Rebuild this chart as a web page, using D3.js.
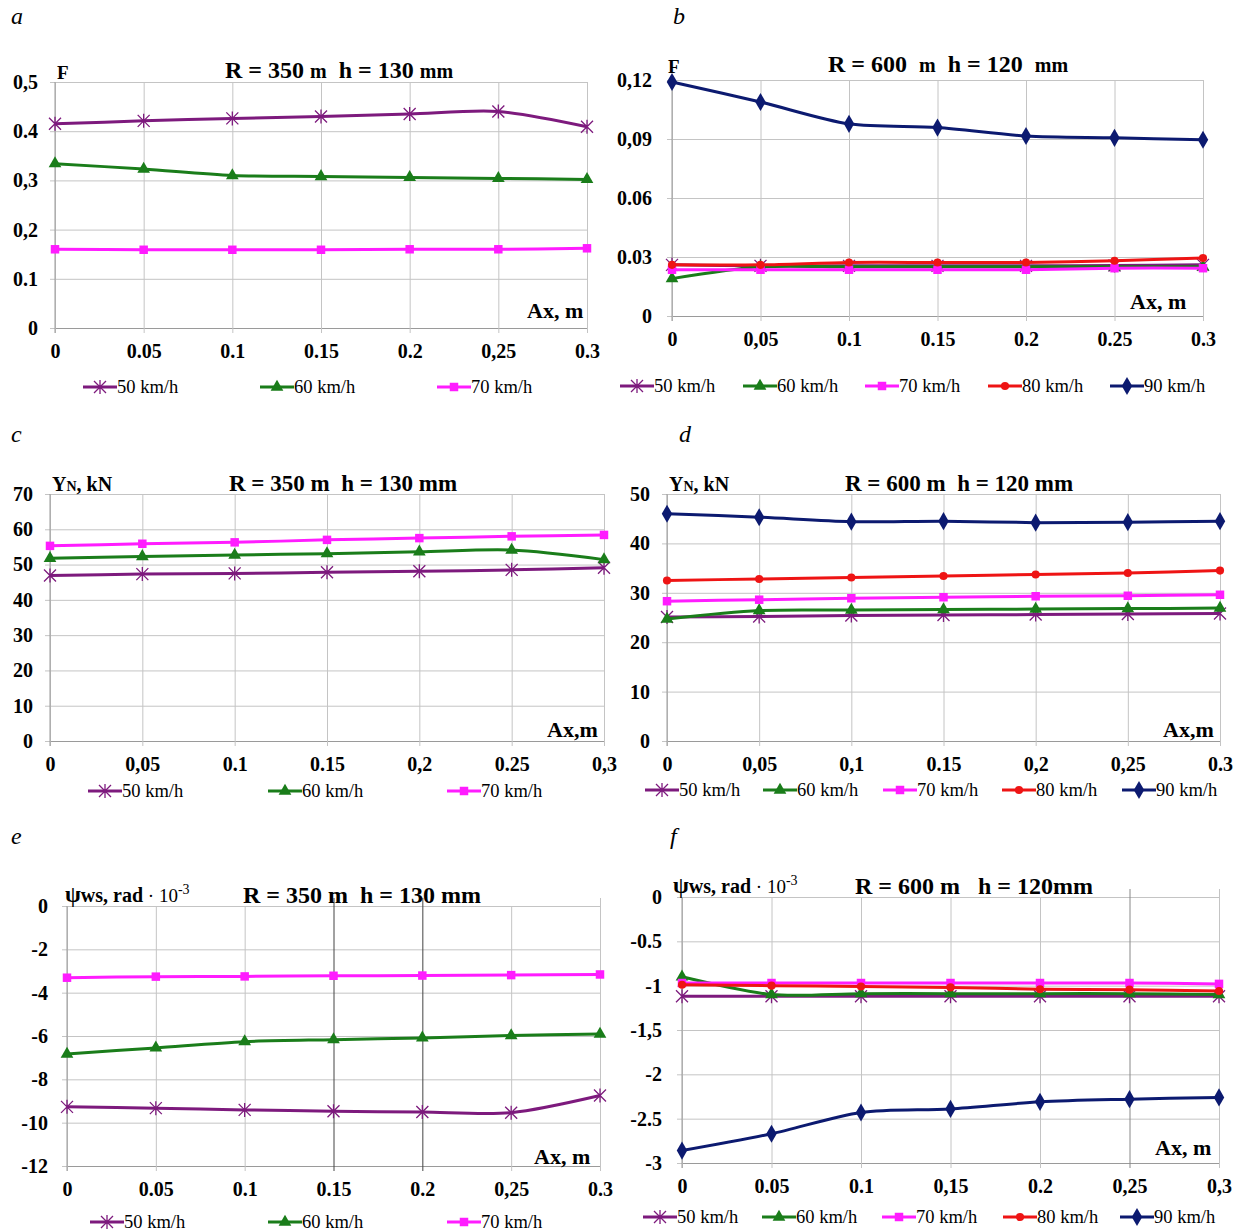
<!DOCTYPE html>
<html><head><meta charset="utf-8">
<script src="https://cdn.jsdelivr.net/npm/d3@7"></script>
<style>body{margin:0;background:#fff}svg{display:block}text{font-family:"Liberation Serif","Times New Roman",serif}</style>
</head><body><svg id="c" width="1241" height="1232"></svg>
<script>
// ---------- DATA ----------
const xValues = [0, 0.05, 0.1, 0.15, 0.2, 0.25, 0.3];
const speeds = ["50 km/h", "60 km/h", "70 km/h", "80 km/h", "90 km/h"];

// a: F, R=350 m h=130 mm
const aF50 = [0.415, 0.421, 0.426, 0.430, 0.435, 0.440, 0.409];
const aF60 = [0.334, 0.323, 0.310, 0.308, 0.306, 0.304, 0.302];
const aF70 = [0.160, 0.159, 0.159, 0.159, 0.160, 0.160, 0.162];
const aXLabels = ["0", "0.05", "0.1", "0.15", "0.2", "0,25", "0.3"];
const aYTicks = [0, 0.1, 0.2, 0.3, 0.4, 0.5];
const aYLabels = ["0", "0.1", "0,2", "0,3", "0.4", "0,5"];

// b: F, R=600 m h=120 mm
const bF50 = [0.026, 0.0255, 0.0255, 0.0255, 0.0255, 0.0257, 0.026];
const bF60 = [0.019, 0.025, 0.025, 0.025, 0.025, 0.025, 0.025];
const bF70 = [0.0235, 0.0235, 0.0235, 0.0235, 0.0235, 0.0243, 0.0243];
const bF80 = [0.026, 0.026, 0.0272, 0.0272, 0.0272, 0.0281, 0.0295];
const bF90 = [0.119, 0.1088, 0.0977, 0.0958, 0.0915, 0.0906, 0.0896];
const bXLabels = ["0", "0,05", "0.1", "0.15", "0.2", "0.25", "0.3"];
const bYTicks = [0, 0.03, 0.06, 0.09, 0.12];
const bYLabels = ["0", "0.03", "0.06", "0,09", "0,12"];

// c: YN, R=350 m h=130 mm
const cY50 = [46.9, 47.3, 47.5, 47.8, 48.1, 48.5, 49.1];
const cY60 = [51.8, 52.3, 52.7, 53.1, 53.6, 54.1, 51.4];
const cY70 = [55.3, 55.9, 56.3, 57.0, 57.5, 58.0, 58.4];
const cXLabels = ["0", "0,05", "0.1", "0.15", "0,2", "0.25", "0,3"];
const cYTicks = [0, 10, 20, 30, 40, 50, 60, 70];
const cYLabels = ["0", "10", "20", "30", "40", "50", "60", "70"];

// d: YN, R=600 m h=120 mm
const dY50 = [25.1, 25.2, 25.4, 25.5, 25.6, 25.7, 25.8];
const dY60 = [24.7, 26.4, 26.5, 26.6, 26.7, 26.8, 26.9];
const dY70 = [28.3, 28.6, 28.9, 29.1, 29.3, 29.4, 29.6];
const dY80 = [32.5, 32.8, 33.1, 33.4, 33.7, 34.0, 34.5];
const dY90 = [46.0, 45.3, 44.4, 44.5, 44.2, 44.3, 44.5];
const dXLabels = ["0", "0,05", "0,1", "0.15", "0,2", "0,25", "0.3"];
const dYTicks = [0, 10, 20, 30, 40, 50];
const dYLabels = ["0", "10", "20", "30", "40", "50"];

// e: psi_ws, R=350 m h=130 mm
const eP50 = [-9.27, -9.33, -9.41, -9.47, -9.51, -9.54, -8.75];
const eP60 = [-6.83, -6.55, -6.26, -6.17, -6.09, -5.98, -5.91];
const eP70 = [-3.31, -3.26, -3.25, -3.22, -3.21, -3.19, -3.16];
const eXLabels = ["0", "0.05", "0.1", "0.15", "0.2", "0,25", "0.3"];
const eYTicks = [-12, -10, -8, -6, -4, -2, 0];
const eYLabels = ["-12", "-10", "-8", "-6", "-4", "-2", "0"];

// f: psi_ws, R=600 m h=120 mm
const fP50 = [-1.12, -1.12, -1.12, -1.12, -1.12, -1.12, -1.12];
const fP60 = [-0.90, -1.10, -1.09, -1.09, -1.09, -1.09, -1.10];
const fP70 = [-0.97, -0.97, -0.97, -0.97, -0.97, -0.97, -0.98];
const fP80 = [-0.99, -1.00, -1.01, -1.02, -1.04, -1.045, -1.06];
const fP90 = [-2.86, -2.67, -2.43, -2.39, -2.31, -2.28, -2.26];
const fXLabels = ["0", "0.05", "0.1", "0,15", "0.2", "0,25", "0,3"];
const fYTicks = [-3, -2.5, -2, -1.5, -1, -0.5, 0];
const fYLabels = ["-3", "-2.5", "-2", "-1,5", "-1", "-0.5", "0"];

// ---------- STYLE ----------
const colors = ["#7d1a7d", "#1a7d1a", "#ff1cff", "#ee1414", "#0c1a70"];
const markers = ["star", "triangle", "square", "circle", "diamond"];

const svg = d3.select("#c");

const panels = [
  {letter:"a", lx:11, ly:24, series:[aF50,aF60,aF70], yTicks:aYTicks, yLabels:aYLabels, xLabels:aXLabels,
   box:{x0:55,x1:587,y0:328,y1:82}, title:["R = 350 ","m","  h = 130 ","mm"], tx:225, ty:78, tfs:24,
   ylab:"F", ylx:57, yly:79, axx:527, axy:318, legY:387, legX:[83,260,437], ytx:38},
  {letter:"b", lx:673, ly:24, series:[bF50,bF60,bF70,bF80,bF90], yTicks:bYTicks, yLabels:bYLabels, xLabels:bXLabels,
   box:{x0:672,x1:1203,y0:316,y1:80}, title:["R = 600  ","m","  h = 120  ","mm"], tx:828, ty:72, tfs:24,
   ylab:"F", ylx:668, yly:73, axx:1130, axy:309, legY:386, legX:[620,743,865,988,1110], ytx:652},
  {letter:"c", lx:11, ly:442, series:[cY50,cY60,cY70], yTicks:cYTicks, yLabels:cYLabels, xLabels:cXLabels,
   box:{x0:50,x1:604,y0:741,y1:494}, title:["R = 350 m  h = 130 mm"], tx:229, ty:491, tfs:23,
   ylab:"YN", ylx:52, yly:491, axx:547, axy:737, legY:791, legX:[88,268,447], ytx:33},
  {letter:"d", lx:679, ly:442, series:[dY50,dY60,dY70,dY80,dY90], yTicks:dYTicks, yLabels:dYLabels, xLabels:dXLabels,
   box:{x0:667,x1:1220,y0:741,y1:494}, title:["R = 600 m  h = 120 mm"], tx:845, ty:491, tfs:23,
   ylab:"YN", ylx:669, yly:491, axx:1163, axy:737, legY:790, legX:[645,763,883,1002,1122], ytx:650},
  {letter:"e", lx:11, ly:844, series:[eP50,eP60,eP70], yTicks:eYTicks, yLabels:eYLabels, xLabels:eXLabels,
   box:{x0:67,x1:600,y0:1166,y1:906}, title:["R = 350 m  h = 130 mm"], tx:243, ty:903, tfs:24,
   ylab:"psi", ylx:65, yly:902, axx:534, axy:1164, legY:1222, legX:[90,268,447], ytx:48,
   darkX:[3,4], darkColor:"#444", extendTop:[3,4,6]},
  {letter:"f", lx:670, ly:844, series:[fP50,fP60,fP70,fP80,fP90], yTicks:fYTicks, yLabels:fYLabels, xLabels:fXLabels,
   box:{x0:682,x1:1219,y0:1163,y1:897}, title:["R = 600 m   h = 120mm"], tx:855, ty:894, tfs:24,
   ylab:"psi", ylx:673, yly:893, axx:1155, axy:1155, legY:1217, legX:[643,762,882,1003,1120], ytx:662,
   darkX:[5], darkColor:"#888", extendTop:[5,6]}
];

function drawMarker(g, type, x, y, color) {
  if (type === "star") {
    const s = 6;
    g.append("path").attr("d", `M${x-s},${y-s}L${x+s},${y+s}M${x-s},${y+s}L${x+s},${y-s}M${x},${y-s-1}L${x},${y+s+1}`)
      .attr("stroke", color).attr("stroke-width", 1.3).attr("fill", "none");
    return;
  }
  const sym = {triangle:d3.symbolTriangle, square:d3.symbolSquare, circle:d3.symbolCircle, diamond:d3.symbolDiamond}[type];
  const size = {triangle:70, square:72, circle:52, diamond:95}[type];
  g.append("path").attr("d", d3.symbol(sym, size)()).attr("transform", `translate(${x},${y})`).attr("fill", color);
}

panels.forEach(p => {
  const g = svg.append("g");
  const yDom = d3.extent(p.yTicks);
  const x = d3.scaleLinear().domain([0, 0.3]).range([p.box.x0, p.box.x1]);
  const y = d3.scaleLinear().domain(yDom).range([p.box.y0, p.box.y1]);

  g.append("text").attr("x", p.lx).attr("y", p.ly).attr("font-size", 24).attr("font-style", "italic").text(p.letter);

  const yAxis = d3.axisLeft(y).tickValues(p.yTicks).tickSize(-(p.box.x1 - p.box.x0)).tickSizeOuter(0)
    .tickFormat((d, i) => p.yLabels[i]);
  const ya = g.append("g").attr("transform", `translate(${p.box.x0},0)`).call(yAxis);
  ya.select(".domain").attr("stroke", "#9a9a9a");
  ya.selectAll(".tick line").attr("stroke", "#c4c4c4").attr("x1", -5);
  ya.selectAll(".tick text").attr("font-size", 20).attr("font-weight", "bold").attr("fill", "#000")
    .attr("font-family", "Liberation Serif, serif").attr("x", p.ytx - p.box.x0).attr("text-anchor", "end");

  const xAxis = d3.axisBottom(x).tickValues(xValues).tickSize(-(p.box.y0 - p.box.y1)).tickSizeOuter(0)
    .tickFormat((d, i) => p.xLabels[i]).tickPadding(16);
  const xa = g.append("g").attr("transform", `translate(0,${p.box.y0})`).call(xAxis);
  xa.select(".domain").attr("stroke", "#9a9a9a");
  xa.selectAll(".tick line").attr("stroke", (d, i) => (p.darkX && p.darkX.includes(i)) ? p.darkColor : "#c4c4c4")
    .attr("y2", (d, i) => -(p.box.y0 - p.box.y1) - ((p.extendTop && p.extendTop.includes(i)) ? 8 : 0))
    .attr("y1", 5);
  xa.selectAll(".tick text").attr("font-size", 20).attr("font-weight", "bold").attr("fill", "#000")
    .attr("font-family", "Liberation Serif, serif");
  g.append("line").attr("x1", p.box.x0).attr("x2", p.box.x0).attr("y1", p.box.y1).attr("y2", p.box.y0 + 5).attr("stroke", "#9a9a9a");

  const t = g.append("text").attr("x", p.tx).attr("y", p.ty).attr("font-weight", "bold").attr("font-size", p.tfs)
    .style("white-space", "pre");
  if (p.title.length === 4) {
    t.append("tspan").text(p.title[0]);
    t.append("tspan").attr("font-size", p.tfs - 4).text(p.title[1]);
    t.append("tspan").text(p.title[2]);
    t.append("tspan").attr("font-size", p.tfs - 4).text(p.title[3]);
  } else {
    t.text(p.title[0]);
  }

  if (p.ylab === "F") {
    g.append("text").attr("x", p.ylx).attr("y", p.yly).attr("font-size", 19).attr("font-weight", "bold").text("F");
  } else if (p.ylab === "YN") {
    const yl = g.append("text").attr("x", p.ylx).attr("y", p.yly).attr("font-size", 20).attr("font-weight", "bold").style("white-space", "pre");
    yl.append("tspan").text("Y");
    yl.append("tspan").attr("font-size", 14).text("N");
    yl.append("tspan").text(", kN");
  } else {
    const yl = g.append("text").attr("x", p.ylx).attr("y", p.yly).attr("font-size", 20).style("white-space", "pre");
    yl.append("tspan").attr("font-size", 23).attr("font-weight", "bold").text("ψ");
    yl.append("tspan").attr("font-weight", "bold").text("ws, rad");
    yl.append("tspan").attr("font-size", 19).text(" · 10");
    yl.append("tspan").attr("font-size", 14).attr("dy", -8).text("-3");
  }

  g.append("text").attr("x", p.axx).attr("y", p.axy).attr("font-size", 22).attr("font-weight", "bold").text(p.letter === "c" || p.letter === "d" ? "Ax,m" : "Ax, m");

  const line = d3.line().x((d, i) => x(xValues[i])).y(d => y(d)).curve(d3.curveCardinal.tension(0.15));
  p.series.forEach((s, k) => {
    const sg = g.append("g");
    sg.append("path").datum(s).attr("d", line).attr("fill", "none").attr("stroke", colors[k]).attr("stroke-width", 3);
    s.forEach((v, i) => drawMarker(sg, markers[k], x(xValues[i]), y(v), colors[k]));
  });

  p.series.forEach((s, k) => {
    const lx = p.legX[k], ly = p.legY;
    g.append("line").attr("x1", lx).attr("x2", lx + 34).attr("y1", ly).attr("y2", ly).attr("stroke", colors[k]).attr("stroke-width", 3);
    drawMarker(g, markers[k], lx + 17, ly, colors[k]);
    g.append("text").attr("x", lx + 34).attr("y", ly + 6).attr("font-size", 18.5).text(speeds[k]);
  });
});
</script>
</body></html>
